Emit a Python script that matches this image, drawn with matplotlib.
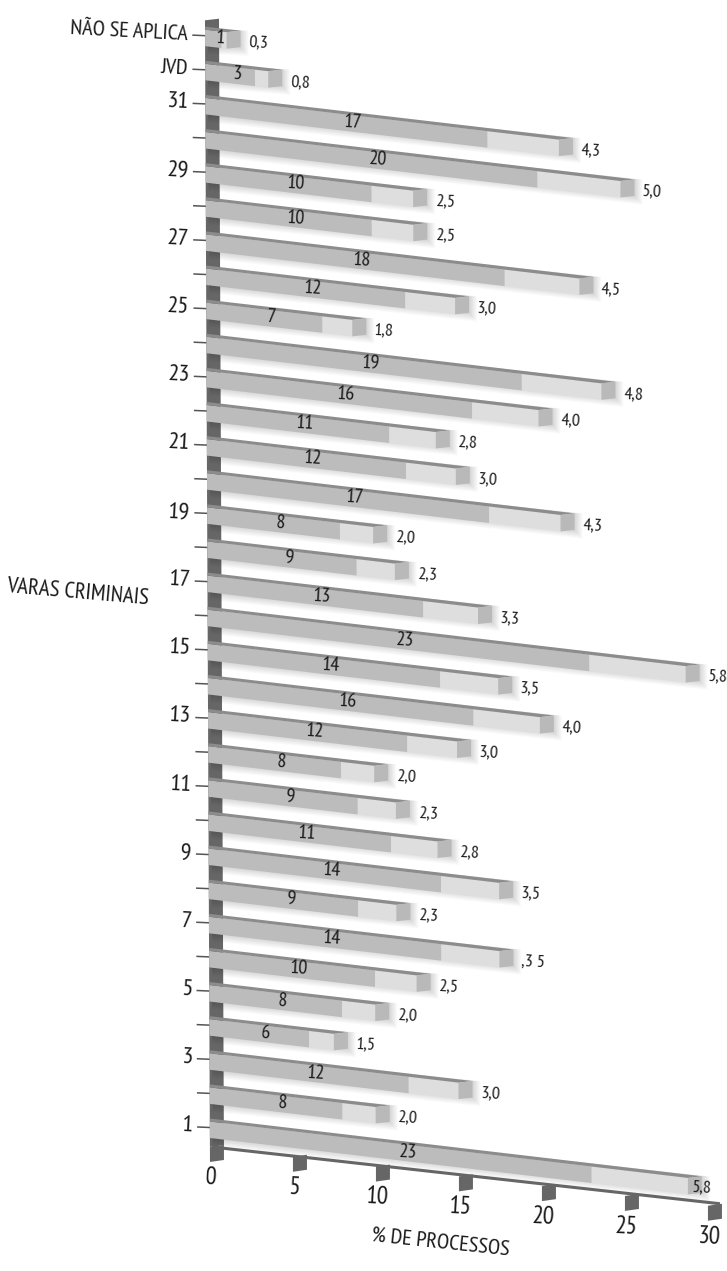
import matplotlib
matplotlib.use("Agg")
import matplotlib.pyplot as plt
from matplotlib.transforms import Affine2D
import numpy as np

plt.rcParams['font.family'] = ['PT Sans Narrow', 'Fira Sans Condensed', 'Roboto Condensed', 'Noto Sans', 'DejaVu Sans']

# top to bottom as printed
row_names = ['NÃO SE APLICA', 'JVD', '31', '', '29', '', '27', '', '25', '', '23', '', '21', '', '19', '',
             '17', '', '15', '', '13', '', '11', '', '9', '', '7', '', '5', '', '3', '', '1']
processos = [1, 3, 17, 20, 10, 10, 18, 12, 7, 19, 16, 11, 12, 17, 8, 9, 13,
             23, 14, 16, 12, 8, 9, 11, 14, 9, 14, 10, 8, 6, 12, 8, 23]
percent = [0.3, 0.8, 4.3, 5.0, 2.5, 2.5, 4.5, 3.0, 1.8, 4.8, 4.0, 2.8, 3.0, 4.3, 2.0, 2.3, 3.3,
           5.8, 3.5, 4.0, 3.0, 2.0, 2.3, 2.8, 3.5, 2.3, 3.5, 2.5, 2.0, 1.5, 3.0, 2.0, 5.8]
x_ticks = [0, 5, 10, 15, 20, 25, 30]
# row 7 is misprinted like this in the original
odd_labels = {7: ',3 5'}

DARK = '#bcbcbc'
LIGHT = '#dedede'
CAP = '#b9b9b9'
TOP = '#8c8c8c'
WALL = '#666666'
INK = '#1a1a1a'

# value / row -> picture pixels, the sheared fake 3d of the original
chart = Affine2D.from_values(16.6, 0.118 * 16.6, -0.15, -34.12, 210.0, 1127.5 + 34.12)
depth = np.array([14.0, -1.6])
bar_h = 16.5


def pt(v, r):
    return chart.transform((v, r))


fig = plt.figure(figsize=(7.27, 12.71), dpi=100)
ax = fig.add_axes([0, 0, 1, 1])
ax.set_xlim(0, 727)
ax.set_ylim(1271, 0)
ax.set_autoscale_on(False)
ax.axis('off')

n = len(row_names)
rows = n - np.arange(n)  # row 1 at the bottom

# back wall
a, b = pt(0, 0.55), pt(0, n + 0.45)
ax.fill([a[0], b[0], b[0] + depth[0], a[0] + depth[0]],
        [a[1] + 4, b[1], b[1] + depth[1], a[1] + 4 + depth[1]], color=WALL, lw=0, zorder=1)

# row marks and names on the left
for name, r in zip(row_names, rows):
    p = pt(0, r)
    ax.plot([p[0] - 12, p[0]], [p[1] - 0.5, p[1]], color='#555555', lw=1.1, zorder=2)
    if name:
        size = 17.5 if name.isdigit() else 16
        ax.text(p[0] - 17, p[1] - 1, name, ha='right', va='center', fontsize=size, color=INK,
                rotation=-3, rotation_mode='anchor')

# soft shadow under every bar
for v, w, r in zip(processos, percent, rows):
    s = pt(0, r) + np.array([0, -6])
    e = pt(v + w, r) + np.array([0, -6]) + depth
    for d in range(1, 9):
        ax.fill([s[0] + 3, e[0] + d, e[0] + d, s[0] + 3],
                [s[1] + bar_h + d, e[1] + bar_h + d * 1.1, e[1], s[1]],
                color='black', alpha=0.02, lw=0, zorder=3)

# bars
for v, w, r in zip(processos, percent, rows):
    h = bar_h / 34.12
    y = r + 6 / 34.12 - h / 2
    ax.barh(y, v, height=h, color=DARK, lw=0, zorder=5, transform=chart + ax.transData)
    ax.barh(y, w, left=v, height=h, color=LIGHT, lw=0, zorder=5, transform=chart + ax.transData)

    tl = pt(0, r) + np.array([0, -6])
    tr = pt(v + w, r) + np.array([0, -6])
    ax.fill([tl[0], tl[0], tr[0] + depth[0], tr[0]],
            [tl[1], tl[1] - 3, tr[1] + depth[1], tr[1]], color=TOP, lw=0, zorder=6)
    ax.fill([tr[0], tr[0] + depth[0], tr[0] + depth[0], tr[0]],
            [tr[1], tr[1] + depth[1], tr[1] + depth[1] + bar_h, tr[1] + bar_h],
            color=CAP, lw=0, zorder=6)

    c = pt(v / 2, r)
    ax.text(c[0] + 7, c[1] + 2, str(v), ha='center', va='center', fontsize=14.5, color=INK,
            rotation=-3, rotation_mode='anchor', zorder=8)
    lab = odd_labels.get(r, f'{w:.1f}'.replace('.', ','))
    lx = tr[0] + 4 if r == 1 else tr[0] + depth[0] + 8
    ly = tr[1] + 10 if r == 1 else tr[1] + 11
    ax.text(lx, ly, lab, ha='left', va='center', fontsize=13, color=INK,
            rotation=-3, rotation_mode='anchor', zorder=8)

# bottom axis
a, b = pt(0, 0.4), pt(30, 0.4)
ax.plot([a[0] + 2, b[0] + 12], [a[1] - 1, b[1] - 3], color=WALL, lw=2.2, zorder=4, solid_capstyle='butt')
for t in x_ticks:
    p = pt(t, 0.4)
    ax.fill([p[0], p[0] + 14, p[0] + 14, p[0]],
            [p[1] - 1, p[1] - 3, p[1] + 12, p[1] + 14], color=WALL, lw=0, zorder=4)
    ax.text(p[0] + 1, p[1] + 30, str(t), ha='center', va='center', fontsize=18, color=INK,
            rotation=-3, rotation_mode='anchor')

ax.text(78, 593, 'VARAS CRIMINAIS', ha='center', va='center', fontsize=16.5, color=INK,
        rotation=-5, rotation_mode='anchor')
ax.text(441, 1243, '% DE PROCESSOS', ha='center', va='center', fontsize=16, color=INK,
        rotation=-6, rotation_mode='anchor')

fig.savefig('out.png', dpi=100, facecolor='white')
